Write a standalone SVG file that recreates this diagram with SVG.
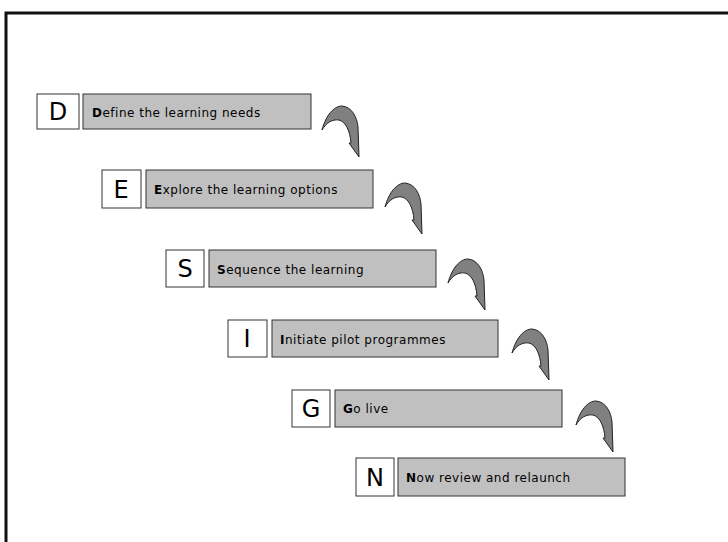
<svg xmlns="http://www.w3.org/2000/svg" width="728" height="542" viewBox="0 0 728 542">
  <style>
    .frame { fill: #ffffff; stroke: #111111; stroke-width: 3; }
    .letter-box { fill: #ffffff; stroke: #333333; stroke-width: 1; }
    .step-box { fill: #c0c0c0; stroke: #333333; stroke-width: 1; }
    .letter { font-family: "DejaVu Sans", "Liberation Sans", sans-serif; font-size: 24px; fill: #000000; text-anchor: middle; }
    .label { font-family: "DejaVu Sans", "Liberation Sans", sans-serif; font-size: 12px; letter-spacing: 0.5px; fill: #000000; }
    .label tspan.initial { font-weight: bold; }
    .turn { fill: #808080; stroke: #222222; stroke-width: 1; stroke-linejoin: round; }
  </style>
  <defs>
    <!-- curved arrow bending down-right to the next step -->
    <path id="turn-arrow" class="turn" d="M 2,27 C 6,12 14,3 22,3 C 32,4 37,14 38,24 L 39,54 L 29,40 L 31,40 C 30,28 26,19 19,17 C 12,16 6,20 2,27 Z"/>
  </defs>

  <rect class="frame" x="6" y="13" width="740" height="545"/>

  <g id="step-d">
    <rect class="letter-box" x="37" y="94" width="42" height="35"/>
    <text class="letter" x="58" y="120">D</text>
    <rect class="step-box" x="83" y="94" width="228" height="35"/>
    <text class="label" x="92" y="117"><tspan class="initial">D</tspan>efine the learning needs</text>
  </g>

  <g id="step-e">
    <rect class="letter-box" x="102" y="170" width="39" height="38"/>
    <text class="letter" x="121" y="198">E</text>
    <rect class="step-box" x="146" y="170" width="227" height="38"/>
    <text class="label" x="154" y="194"><tspan class="initial">E</tspan>xplore the learning options</text>
  </g>

  <g id="step-s">
    <rect class="letter-box" x="166" y="250" width="38" height="37"/>
    <text class="letter" x="185" y="277">S</text>
    <rect class="step-box" x="209" y="250" width="227" height="37"/>
    <text class="label" x="217" y="274"><tspan class="initial">S</tspan>equence the learning</text>
  </g>

  <g id="step-i">
    <rect class="letter-box" x="228" y="320" width="39" height="37"/>
    <text class="letter" x="247" y="347">I</text>
    <rect class="step-box" x="272" y="320" width="226" height="37"/>
    <text class="label" x="280" y="344"><tspan class="initial">I</tspan>nitiate pilot programmes</text>
  </g>

  <g id="step-g">
    <rect class="letter-box" x="292" y="390" width="38" height="37"/>
    <text class="letter" x="311" y="417">G</text>
    <rect class="step-box" x="335" y="390" width="227" height="37"/>
    <text class="label" x="343" y="413"><tspan class="initial">G</tspan>o live</text>
  </g>

  <g id="step-n">
    <rect class="letter-box" x="356" y="458" width="38" height="38"/>
    <text class="letter" x="375" y="486">N</text>
    <rect class="step-box" x="398" y="458" width="227" height="38"/>
    <text class="label" x="406" y="482"><tspan class="initial">N</tspan>ow review and relaunch</text>
  </g>

  <g id="connectors">
    <use href="#turn-arrow" x="320" y="103"/>
    <use href="#turn-arrow" x="383" y="180"/>
    <use href="#turn-arrow" x="446" y="256"/>
    <use href="#turn-arrow" x="510" y="326"/>
    <use href="#turn-arrow" x="574" y="398"/>
  </g>
</svg>
